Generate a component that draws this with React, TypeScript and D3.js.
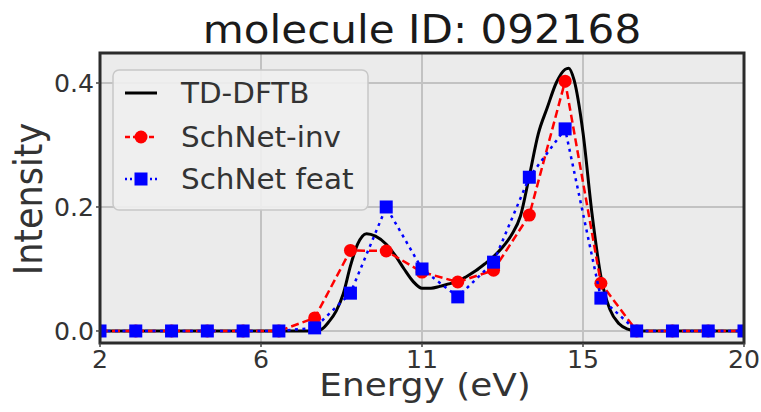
import React from "react";
import * as d3 from "d3";

const title = "molecule ID: 092168";
const xLabel = "Energy (eV)";
const yLabel = "Intensity";

// x ticks placed evenly from 2 to 20 (labels shown as integers)
const xTickValues = [2, 6.5, 11, 15.5, 20];
const xTickLabels = ["2", "6", "11", "15", "20"];
const yTickValues = [0.0, 0.2, 0.4];
const yTickLabels = ["0.0", "0.2", "0.4"];

// predictions on a 1 eV grid
const energyGrid = [2, 3, 4, 5, 6, 7, 8, 9, 10, 11, 12, 13, 14, 15, 16, 17, 18, 19, 20];
const schnetInv = [0, 0, 0, 0, 0, 0, 0.021, 0.13, 0.129, 0.095, 0.079, 0.098, 0.187, 0.403, 0.077, 0, 0, 0, 0];
const schnetFeat = [0, 0, 0, 0, 0, 0, 0.005, 0.061, 0.2, 0.1, 0.055, 0.111, 0.248, 0.326, 0.053, 0, 0, 0, 0];

// reference spectrum (TD-DFTB)
const energyFine = [2, 8.0, 8.2, 8.4, 8.6, 8.8, 9.0, 9.2, 9.45, 9.7, 10.0, 10.25, 10.5, 10.75, 11.0, 11.25, 11.5, 11.75, 12.0, 12.25, 12.5, 12.75, 13.0, 13.25, 13.5, 13.75, 14.0, 14.25, 14.5, 14.75, 15.0, 15.1, 15.25, 15.5, 15.75, 16.0, 16.25, 16.5, 16.75, 17.0, 20];
const tddftb = [0, 0, 0.003, 0.015, 0.032, 0.06, 0.105, 0.14, 0.157, 0.153, 0.14, 0.122, 0.1, 0.08, 0.069, 0.069, 0.072, 0.076, 0.08, 0.088, 0.097, 0.108, 0.12, 0.135, 0.155, 0.185, 0.25, 0.318, 0.36, 0.4, 0.422, 0.424, 0.405, 0.32, 0.19, 0.088, 0.035, 0.012, 0.003, 0, 0];

const legendItems = ["TD-DFTB", "SchNet-inv", "SchNet feat"];

const W = 761;
const H = 412;
const left = 100;
const right = 744;
const top = 53;
const bottom = 343;

const FONT = "'DejaVu Sans', sans-serif";

function SText(props: {
  x: number; y: number; size: number; sx?: number; anchor?: string; rotate?: number; fill?: string; children: React.ReactNode;
}) {
  const { x, y, size, sx = 1.07, anchor = "start", rotate = 0, fill = "#222" } = props;
  return (
    <g transform={`translate(${x},${y}) scale(${sx},1) rotate(${rotate})`}>
      <text x={0} y={0} fontSize={size} fontFamily={FONT} textAnchor={anchor as any} fill={fill}>
        {props.children}
      </text>
    </g>
  );
}

export default function App() {
  const x = d3.scaleLinear().domain([2, 20]).range([left, right]);
  const y = d3.scaleLinear().domain([-0.0194, 0.4484]).range([bottom, top]);

  const lineGen = d3
    .line<number>()
    .x((_, i) => x(energyGrid[i]))
    .y((d) => y(d));
  const fineGen = d3
    .line<number>()
    .x((_, i) => x(energyFine[i]))
    .y((d) => y(d))
    .curve(d3.curveMonotoneX);

  const redDash = "8,4";
  const blueDot = "3,4.5";
  const sq = 13;

  const legX = 113;
  const legY = 70;
  const legW = 255;
  const legH = 140;
  const rowY = [93, 137, 179];
  const hx0 = 125;
  const hx1 = 157;
  const hxm = (hx0 + hx1) / 2;

  return (
    <svg width={W} height={H} style={{ position: "absolute", left: 0, top: 0, background: "#fff" }}>
      <defs>
        <clipPath id="plotclip">
          <rect x={left} y={top} width={right - left} height={bottom - top} />
        </clipPath>
      </defs>
      <rect x={left} y={top} width={right - left} height={bottom - top} fill="#ebebeb" />
      {/* grid */}
      {xTickValues.map((v, i) => (
        <line key={"gx" + i} x1={x(v)} x2={x(v)} y1={top} y2={bottom} stroke="#c2c2c2" strokeWidth={2} />
      ))}
      {yTickValues.map((v, i) => (
        <line key={"gy" + i} x1={left} x2={right} y1={y(v)} y2={y(v)} stroke="#c2c2c2" strokeWidth={2} />
      ))}
      <g clipPath="url(#plotclip)">
        <path d={fineGen(tddftb) || ""} fill="none" stroke="#000" strokeWidth={3} />
        <path d={lineGen(schnetInv) || ""} fill="none" stroke="#ff0000" strokeWidth={2.5} strokeDasharray={redDash} />
        {schnetInv.map((v, i) => (
          <circle key={"r" + i} cx={x(energyGrid[i])} cy={y(v)} r={6.5} fill="#ff0000" />
        ))}
        <path d={lineGen(schnetFeat) || ""} fill="none" stroke="#0000ff" strokeWidth={2.5} strokeDasharray={blueDot} />
        {schnetFeat.map((v, i) => (
          <rect key={"b" + i} x={x(energyGrid[i]) - sq / 2} y={y(v) - sq / 2} width={sq} height={sq} fill="#0000ff" />
        ))}
      </g>
      {/* spines */}
      <rect x={left} y={top} width={right - left} height={bottom - top} fill="none" stroke="#2b2b2b" strokeWidth={3} />
      {/* ticks */}
      {xTickValues.map((v, i) => (
        <g key={"xt" + i}>
          <line x1={x(v)} x2={x(v)} y1={bottom} y2={bottom + 4} stroke="#444" strokeWidth={1.5} />
          <SText x={x(v)} y={368} size={24} sx={1.05} anchor="middle" fill="#333">{xTickLabels[i]}</SText>
        </g>
      ))}
      {yTickValues.map((v, i) => (
        <g key={"yt" + i}>
          <line x1={left - 4} x2={left} y1={y(v)} y2={y(v)} stroke="#444" strokeWidth={1.5} />
          <SText x={94} y={y(v) + 9} size={24} sx={1.05} anchor="end" fill="#333">{yTickLabels[i]}</SText>
        </g>
      ))}
      {/* labels */}
      <SText x={425} y={396} size={32} sx={1.12} anchor="middle" fill="#333">{xLabel}</SText>
      <SText x={42} y={199} size={35} sx={1.12} anchor="middle" rotate={-90} fill="#333">{yLabel}</SText>
      <SText x={422} y={43} size={39} sx={1.08} anchor="middle" fill="#1a1a1a">{title}</SText>
      {/* legend */}
      <rect x={legX} y={legY} width={legW} height={legH} rx={6} ry={6} fill="#efefef" fillOpacity={0.92} stroke="#c8c8c8" strokeWidth={1.5} />
      <line x1={hx0} x2={hx1} y1={rowY[0]} y2={rowY[0]} stroke="#000" strokeWidth={3} />
      <line x1={hx0} x2={hx1} y1={rowY[1]} y2={rowY[1]} stroke="#ff0000" strokeWidth={2.5} strokeDasharray="5,3" />
      <circle cx={hxm} cy={rowY[1]} r={6.5} fill="#ff0000" />
      <line x1={hx0} x2={hx1} y1={rowY[2]} y2={rowY[2]} stroke="#0000ff" strokeWidth={2.5} strokeDasharray="2,3" />
      <rect x={hxm - sq / 2} y={rowY[2] - sq / 2} width={sq} height={sq} fill="#0000ff" />
      {legendItems.map((t, i) => (
        <SText key={"lg" + i} x={181} y={rowY[i] + 10} size={27.5} sx={1.07} fill="#333">{t}</SText>
      ))}
    </svg>
  );
}
